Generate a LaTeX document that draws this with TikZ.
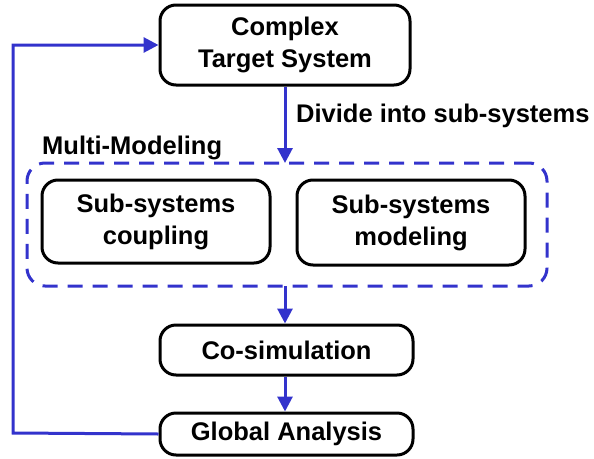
\documentclass[tikz,border=0pt]{standalone}
\usepackage{fontspec}
\setmainfont{Liberation Sans}
\usetikzlibrary{arrows.meta}
\definecolor{arrblue}{RGB}{51,51,204}
\begin{document}
\begin{tikzpicture}[x=1pt,y=-1pt,
  box/.style={draw=black,line width=3pt,rounded corners=16pt,align=center,
    font=\fontsize{25.5}{32}\selectfont\bfseries,inner sep=0pt},
  lbl/.style={font=\fontsize{25.5}{32}\selectfont\bfseries,inner sep=0pt,anchor=west},
  arr/.style={draw=arrblue,line width=3pt,-{Triangle[length=15pt,width=15pt]}},
  group/.style={draw=arrblue,line width=3pt,dash pattern=on 15pt off 10pt,rounded corners=18pt,inner sep=0pt}]
\useasboundingbox (0,0) rectangle (594,458);
\node[box,minimum width=250pt,minimum height=80pt] (cts) at (285,45) {Complex\\Target System};
\node[group,minimum width=520pt,minimum height=123pt] (mm) at (287,224.5) {};
\node[box,minimum width=228pt,minimum height=83pt] (coup) at (156,221.5) {Sub-systems\\coupling};
\node[box,minimum width=228pt,minimum height=85pt] (model) at (411,222.5) {Sub-systems\\modeling};
\node[box,minimum width=253pt,minimum height=50pt] (cosim) at (286.5,350) {Co-simulation};
\node[box,minimum width=253pt,minimum height=42pt] (glob) at (286.5,434) {Global Analysis};
\node[lbl] (div) at (296,116) {Divide into sub-systems};
\node[lbl] (mml) at (42,148) {Multi-Modeling};
\coordinate (mmtop) at (285,163);
\coordinate (mmbot) at (285,286);
\coordinate (cl) at (13,433);
\coordinate (cu) at (13,45);
\draw[arr] (cts.south -| mmtop) -- (mmtop);
\draw[arr] (mmbot) -- (cosim.north -| mmbot);
\draw[arr] (cosim.south -| mmbot) -- (glob.north -| mmbot);
\draw[arr] (glob.west) -- (cl) -- (cu) -- (cts.west);
\end{tikzpicture}
\end{document}
